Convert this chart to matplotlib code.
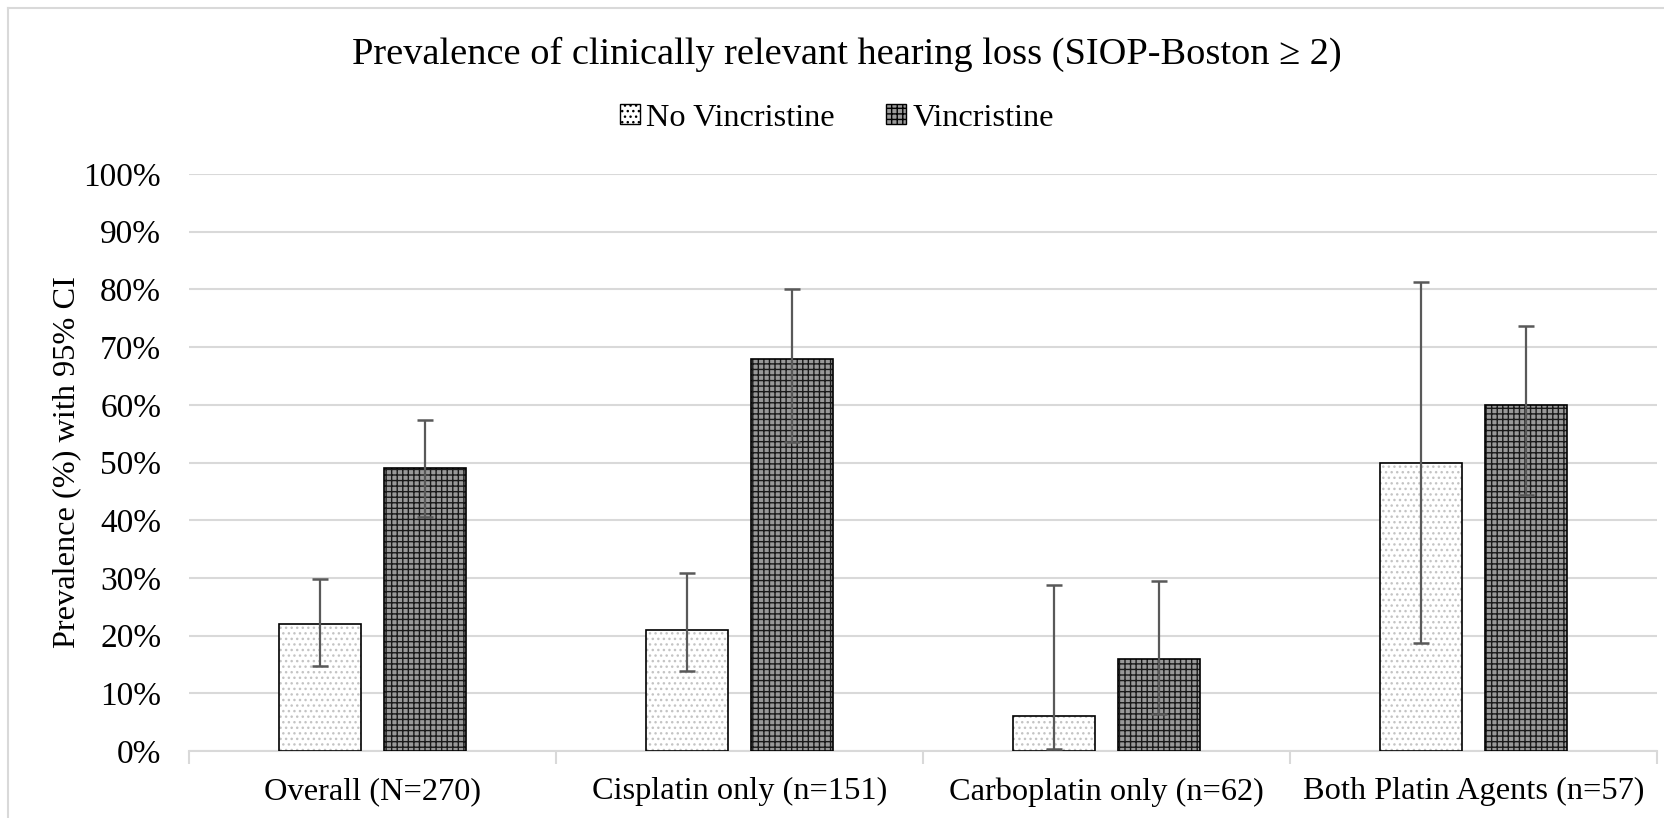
import matplotlib
matplotlib.use("Agg")
import matplotlib.pyplot as plt
import numpy as np
from matplotlib.lines import Line2D
from matplotlib.patches import Patch

categories = ["Overall (N=270)", "Cisplatin only (n=151)", "Carboplatin only (n=62)", "Both Platin Agents (n=57)"]
series_names = ["No Vincristine", "Vincristine"]
no_vinc = [22, 21, 6, 50]
no_vinc_lo = [14.7, 13.8, 0.3, 18.7]
no_vinc_hi = [29.8, 30.9, 28.7, 81.3]
vinc = [49, 68, 16, 60]
vinc_lo = [40.6, 53.6, 6.4, 44.3]
vinc_hi = [57.4, 80.1, 29.4, 73.6]
yticks = list(range(0, 101, 10))
ytick_labels = [f"{t}%" for t in yticks]

plt.rcParams['font.family'] = ['Liberation Serif', 'DejaVu Serif']
plt.rcParams['hatch.linewidth'] = 1.0

W, H = 1665, 818
FS = 23.3
fig = plt.figure(figsize=(W / 100, H / 100), dpi=100)
ax = fig.add_axes([189 / W, 1 - 751 / H, (1657 - 189) / W, (751 - 174) / H])

x = np.arange(len(categories))
bw = 0.226
off = 0.143

NV_FACE, NV_HATCH, NV_HCOL = 'white', '...', '#c4c4c4'
V_FACE, V_HATCH, V_HCOL = '#999999', '+++', '#1a1a1a'

def draw(vals, lo, hi, pos, face, hatch, hcol):
    ax.bar(pos, vals, bw, color=face, hatch=hatch, edgecolor=hcol, linewidth=0, zorder=2)
    ax.bar(pos, vals, bw, fill=False, edgecolor='black', linewidth=1.2, zorder=3)
    v = np.array(vals); l = np.array(lo); h = np.array(hi)
    ax.errorbar(pos, v, yerr=[v - l, h - v], fmt='none', ecolor='#595959',
                elinewidth=1.6, capsize=6, capthick=1.8, zorder=4)

draw(no_vinc, no_vinc_lo, no_vinc_hi, x - off, NV_FACE, NV_HATCH, NV_HCOL)
draw(vinc, vinc_lo, vinc_hi, x + off, V_FACE, V_HATCH, V_HCOL)

ax.set_xlim(-0.5, len(categories) - 0.5)
ax.set_ylim(0, 100)
ax.set_yticks(yticks)
ax.set_yticklabels(ytick_labels, fontsize=FS + 0.7)
ax.yaxis.grid(True, color='#d9d9d9', linewidth=1.5, zorder=0)
ax.set_axisbelow(True)
ax.tick_params(axis='y', length=0, pad=20)
ax.set_xticks(x)
ax.set_xticklabels(categories, fontsize=FS)
ax.tick_params(axis='x', length=0, pad=19)
ax.set_xticks(np.arange(-0.5, len(categories), 1.0), minor=True)
ax.tick_params(axis='x', which='minor', length=9, width=1.5, color='#d9d9d9')
for s in ['top', 'right', 'left']:
    ax.spines[s].set_visible(False)
ax.spines['bottom'].set_color('#d9d9d9')
ax.spines['bottom'].set_linewidth(1.5)
ax.spines['bottom'].set_zorder(1)

ax.set_ylabel("Prevalence (%) with 95% CI", fontsize=FS)
ax.yaxis.set_label_coords(-(189 - 81) / (1657 - 189), 0.5)

fig.text(847 / W, 1 - 54 / H, "Prevalence of clinically relevant hearing loss (SIOP-Boston \u2265 2)",
         ha='center', va='center', fontsize=27.6)

handles = [Patch(facecolor=NV_FACE, hatch=NV_HATCH, edgecolor='black', linewidth=1.0),
           Patch(facecolor=V_FACE, hatch=V_HATCH, edgecolor='black', linewidth=1.0)]
fig.legend(handles, series_names, loc='center', bbox_to_anchor=(837 / W, 1 - 118 / H),
           ncol=2, frameon=False, fontsize=FS, handlelength=0.6, handleheight=0.6,
           handletextpad=0.2, columnspacing=1.6)

fig.add_artist(Line2D([8 / W, 8 / W], [0, 1 - 8 / H], color='#d9d9d9', linewidth=1.5))
fig.add_artist(Line2D([8 / W, 1], [1 - 8 / H, 1 - 8 / H], color='#d9d9d9', linewidth=1.5))

fig.savefig("out.png", dpi=100)
